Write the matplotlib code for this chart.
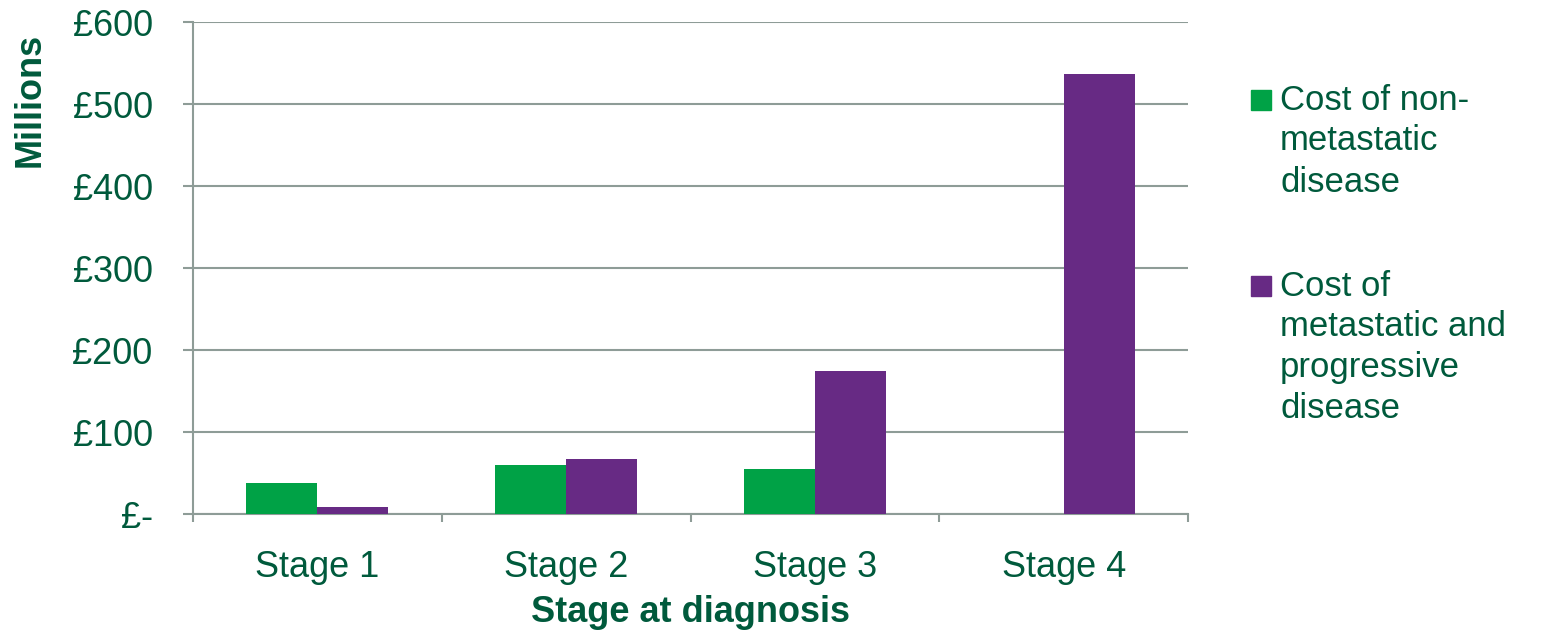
import numpy as np
import matplotlib.pyplot as plt
from matplotlib.patches import Rectangle

plt.rcParams['font.family'] = ['Liberation Sans', 'DejaVu Sans']

stages = ['Stage 1', 'Stage 2', 'Stage 3', 'Stage 4']
non_metastatic = [38, 60, 55, 0]
metastatic = [8.5, 67, 174, 536]
series_labels = [['Cost of non-', 'metastatic', 'disease'],
                 ['Cost of', 'metastatic and', 'progressive', 'disease']]
series_colors = ['#00A246', '#672A84']
y_ticks = [0, 100, 200, 300, 400, 500, 600]
y_ticklabels = ['£-', '£100', '£200', '£300', '£400', '£500', '£600']

text_col = '#005A3C'
grid_col = '#8E9C97'
fs = 26

W, H = 1543, 633
fig = plt.figure(figsize=(W / 100, H / 100), dpi=100)
ax = fig.add_axes([193 / W, 119 / H, 995 / W, 492 / H])

x = np.arange(len(stages))
w = 0.285
ax.bar(x - w / 2, non_metastatic, w, color=series_colors[0], zorder=3)
ax.bar(x + w / 2, metastatic, w, color=series_colors[1], zorder=3)

ax.set_xlim(-0.5, 3.5)
ax.set_ylim(0, 600)
ax.set_yticks(y_ticks)
ax.set_yticklabels(y_ticklabels)
ax.yaxis.grid(True, color=grid_col, linewidth=1.5, zorder=0)

# category labels centred, separator ticks at the boundaries
ax.set_xticks(x)
ax.set_xticklabels(stages)
ax.tick_params(axis='x', length=0, pad=26)
ax.set_xticks(np.arange(-0.5, 4, 1), minor=True)
ax.tick_params(axis='x', which='minor', length=6, width=1.5, color=grid_col)
ax.tick_params(axis='y', length=7, width=1.5, color=grid_col, pad=22)
ax.tick_params(labelsize=fs, labelcolor=text_col)

for s in ['top', 'right']:
    ax.spines[s].set_visible(False)
for s in ['left', 'bottom']:
    ax.spines[s].set_color(grid_col)
    ax.spines[s].set_linewidth(1.5)

ax.set_xlabel('Stage at diagnosis', fontsize=fs, fontweight='bold',
              color=text_col, labelpad=7)
fig.text(30 / W, (H - 100) / H, 'Millions', rotation=90, fontsize=fs,
         fontweight='bold', color=text_col, ha='center', va='center')

# legend drawn by hand, square beside the first line of each label
legend_tops = [100, 286]
for lines, col, y0 in zip(series_labels, series_colors, legend_tops):
    fig.add_artist(Rectangle((1251 / W, (H - y0 - 10) / H), 20 / W, 20 / H,
                             transform=fig.transFigure, color=col))
    for i, line in enumerate(lines):
        fig.text(1280 / W, (H - y0 - 41 * i) / H, line, fontsize=25,
                 color=text_col, ha='left', va='center')

fig.savefig('out.png', dpi=100)
